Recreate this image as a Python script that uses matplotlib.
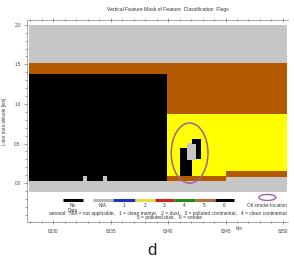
import matplotlib
matplotlib.use("Agg")
import matplotlib.pyplot as plt
from matplotlib.patches import Ellipse

plt.rcParams['font.family'] = ['Liberation Sans', 'DejaVu Sans']

# ---- data: feature-mask blocks (distance km, altitude km, class) ----
blk_x0 = [8327.87, 8327.87, 8332.60, 8334.35, 8327.87, 8327.87,
          8339.87, 8339.87, 8339.87, 8339.87, 8339.87, 8345.00, 8345.00,
          8341.66, 8341.00, 8341.60, 8342.04, 8342.39]
blk_x1 = [8339.87, 8339.87, 8332.90, 8334.65, 8339.87, 8339.87,
          8350.35, 8350.35, 8350.35, 8345.00, 8345.00, 8350.35, 8350.35,
          8342.45, 8341.60, 8342.04, 8342.83, 8342.83]
blk_bot = [-0.114, 0.025, 0.025, 0.025, 1.38, 1.52,
           1.52, 0.87, 0.09, 0.025, -0.114, 0.076, -0.114,
           0.29, 0.09, 0.09, 0.49, 0.30]
blk_top = [0.025, 1.38, 0.09, 0.09, 1.52, 2.00,
           2.00, 1.52, 0.87, 0.09, 0.025, 0.15, 0.076,
           0.51, 0.44, 0.29, 0.56, 0.56]
blk_cls = ['surface', 'nodata', 'surface', 'surface', 'aerosol5', 'surface',
           'surface', 'aerosol5', 'aerosol2', 'aerosol5', 'surface', 'aerosol5', 'surface',
           'surface', 'nodata', 'nodata', 'nodata', 'nodata']

class_colors = {'surface': '#c6c6c6', 'nodata': '#000000',
                'aerosol2': '#ffff00', 'aerosol5': '#b35a00'}

# oil smoke location (ellipse), km / km
smoke_center = (8341.87, 0.38)
smoke_size = (3.2, 0.76)

# legend
leg_labels = ['No\nData', 'N/A', '1', '2', '3', '4', '5', '6']
leg_colors = ['#000000', '#b4b4b4', '#2030c0', '#e0e040', '#d02020', '#208a20', '#b07040', '#000000']
leg_x0 = [8330.83, 8333.43, 8335.17, 8337.09, 8338.83, 8340.48, 8342.30, 8344.04]
leg_x1 = [8332.57, 8335.17, 8337.09, 8338.83, 8340.48, 8342.30, 8344.04, 8345.78]

xticks = [8330, 8335, 8340, 8345, 8350]
yticks = [0.0, 0.5, 1.0, 1.5, 2.0]

fig = plt.figure(figsize=(2.94, 2.61), dpi=100)
ax = fig.add_axes([0.0918, 0.1494, 0.888, 0.774])

for x0, x1, b, t, c in zip(blk_x0, blk_x1, blk_bot, blk_top, blk_cls):
    ax.bar(x0, t - b, width=x1 - x0, bottom=b, align='edge',
           color=class_colors[c], linewidth=0)

ax.add_patch(Ellipse(smoke_center, smoke_size[0], smoke_size[1],
                     fill=False, edgecolor='#a0609a', linewidth=1.1))

# legend colour bar
ly = -0.21
for lab, col, x0, x1 in zip(leg_labels, leg_colors, leg_x0, leg_x1):
    ax.plot([x0, x1], [ly, ly], color=col, linewidth=2.2, solid_capstyle='butt')
    ax.text((x0 + x1) / 2, -0.255, lab, ha='center', va='top', fontsize=3.4,
            linespacing=0.8, color='#333333')
ax.add_patch(Ellipse((8348.65, -0.18), 1.48, 0.076, fill=False,
                     edgecolor='#a060b0', linewidth=1.0))
ax.text(8348.65, -0.255, 'Oil smoke location', ha='center', va='top',
        fontsize=3.4, color='#333333')
ax.text(8329.6, -0.38, 'aerosol:  N/A = not applicable,   1 = clean marine,   2 = dust,   '
        '3 = polluted continental,   4 = clean continental',
        ha='left', va='center', fontsize=3.5, color='#333333')
ax.text(8337.3, -0.435, '5 = polluted dust,   6 = smoke',
        ha='left', va='center', fontsize=3.5, color='#333333')

ax.set_xlim(8327.7, 8350.45)
ax.set_ylim(-0.49, 2.06)
ax.set_xticks(xticks)
ax.set_xticklabels([str(v) for v in xticks])
ax.set_yticks(yticks)
ax.set_yticklabels(['%.1f' % v for v in yticks])
ax.set_xticks([v for v in range(8328, 8351) if v % 5], minor=True)
ax.set_yticks([i / 10 for i in range(-4, 21) if i % 5], minor=True)
ax.tick_params(axis='both', which='major', labelsize=3.3, colors='#555555',
               length=2.5, width=0.4, pad=2, labelcolor='#444444')
ax.tick_params(axis='both', which='minor', colors='#555555', length=1.5, width=0.4)
ax.tick_params(axis='x', which='both', direction='inout', top=True)
ax.tick_params(axis='x', which='major', pad=4)
ax.text(8346.2, -0.545, 'Km', ha='center', va='top', fontsize=3.3, color='#444444')

for s in ['left', 'bottom', 'top']:
    ax.spines[s].set_linewidth(0.4)
    ax.spines[s].set_color('#666666')
ax.spines['right'].set_visible(False)

ax.set_ylabel('Lidar data altitude [km]', fontsize=3.3, color='#444444', labelpad=5)
fig.text(0.571, 0.962, 'Vertical Feature Mask of Feature  Classification  Flags',
         ha='center', va='center', fontsize=3.6, color='#333333')
fig.text(0.517, 0.04, 'd', ha='center', va='center', fontsize=12, color='#222222')

fig.savefig('out.png', dpi=100)
